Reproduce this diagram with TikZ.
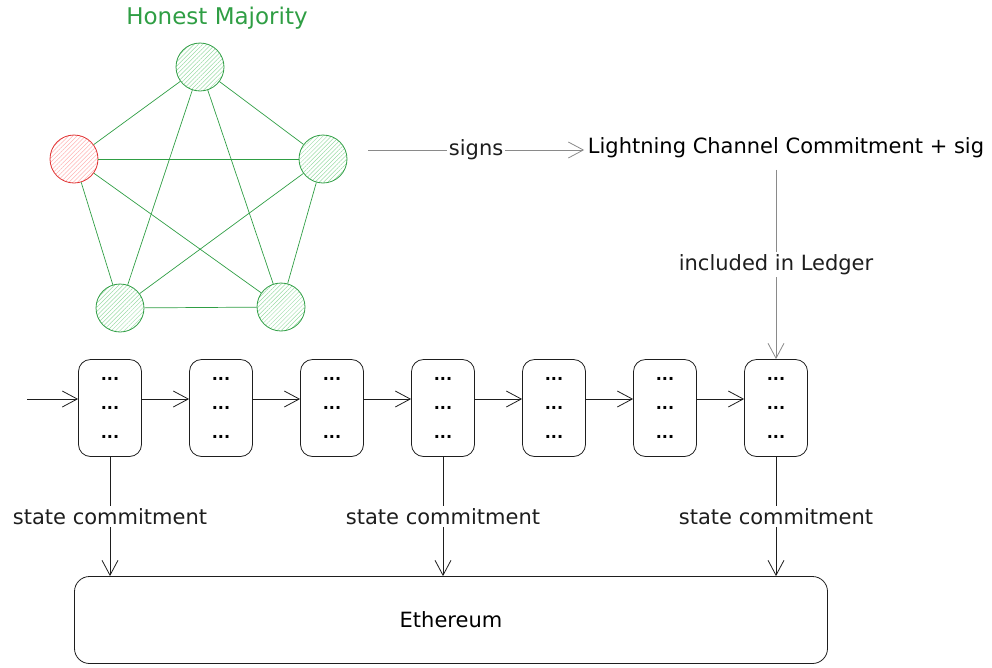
\documentclass[tikz,border=0pt]{standalone}
\usepackage{fontspec}
\setmainfont{DejaVu Sans}
\usetikzlibrary{arrows.meta,patterns.meta}

\definecolor{hgreen}{HTML}{2F9E44}
\definecolor{hgreenfill}{HTML}{9ADBA5}
\definecolor{hred}{HTML}{E03131}
\definecolor{hredfill}{HTML}{FFB3B3}
\definecolor{ink}{HTML}{1E1E1E}
\definecolor{grayline}{HTML}{8A8A8A}
\newcommand{\dotrow}{\textbf{...}}

\begin{document}
\begin{tikzpicture}[x=1pt,y=-1pt,>={Straight Barb[length=15pt,width=16pt]},
		line width=0.8pt,font=\fontsize{21}{25}\selectfont,node distance=111pt,
		honest node/.style={circle,draw=hgreen,minimum size=48pt,inner sep=0pt,
			pattern={Lines[angle=45,distance=3pt,line width=0.5pt]},pattern color=hgreenfill},
		bad node/.style={honest node,draw=hred,pattern color=hredfill},
		graph edge/.style={color=hgreen,line width=0.7pt},
		block node/.style={draw=ink,rounded corners=12pt,minimum width=63pt,minimum height=97pt,
			align=center,font=\fontsize{16}{29}\selectfont},
		chain node/.style={draw=ink,rounded corners=15pt,minimum width=753pt,minimum height=87pt},
		lbl/.style={fill=white,inner sep=2pt}]
		\useasboundingbox (0,0) rectangle (992,667);
		% Mehrheit
		\node[text=hgreen,font=\fontsize{23}{27}\selectfont] (title) at (217,18) {Honest Majority};
		\node[honest node] (h1) at (200,67) {};
		\node[bad node] (h2) at (74,159) {};
		\node[honest node] (h3) at (323,159) {};
		\node[honest node] (h4) at (120,308) {};
		\node[honest node] (h5) at (281,307) {};
		
		\path[graph edge]
		(h1) edge (h2) edge (h3) edge (h4) edge (h5)
		(h2) edge (h3) edge (h4) edge (h5)
		(h3) edge (h4) edge (h5)
		(h4) edge (h5);
		
		% Signatur
		\coordinate (sg) at (368,150);
		\node (lcc) at (786,148) {Lightning Channel Commitment + sig};
		
		% Ledger
		\node[block node] (b1) at (110,408) {\dotrow\\\dotrow\\\dotrow};
		\node[block node] (b2) [right of= b1] {\dotrow\\\dotrow\\\dotrow};
		\node[block node] (b3) [right of= b2] {\dotrow\\\dotrow\\\dotrow};
		\node[block node] (b4) [right of= b3] {\dotrow\\\dotrow\\\dotrow};
		\node[block node] (b5) [right of= b4] {\dotrow\\\dotrow\\\dotrow};
		\node[block node] (b6) [right of= b5] {\dotrow\\\dotrow\\\dotrow};
		\node[block node] (b7) [right of= b6] {\dotrow\\\dotrow\\\dotrow};
		\coordinate (in) at (27,399);
		
		% Ethereum
		\node[chain node] (eth) at (451,620) {Ethereum};
		
		\path[->,color=grayline]
		(sg) edge node[lbl,text=ink] {signs} (lcc.west |- sg)
		([yshift=-8pt]lcc.south -| b7) edge node[lbl,text=ink] {included in Ledger} (b7);
		
		\path[->,color=ink]
		(in) edge ([yshift=9pt]b1.west)
		([yshift=9pt]b1.east) edge ([yshift=9pt]b2.west)
		([yshift=9pt]b2.east) edge ([yshift=9pt]b3.west)
		([yshift=9pt]b3.east) edge ([yshift=9pt]b4.west)
		([yshift=9pt]b4.east) edge ([yshift=9pt]b5.west)
		([yshift=9pt]b5.east) edge ([yshift=9pt]b6.west)
		([yshift=9pt]b6.east) edge ([yshift=9pt]b7.west)
		(b1) edge node[lbl] {state commitment} (b1 |- eth.north)
		(b4) edge node[lbl] {state commitment} (b4 |- eth.north)
		(b7) edge node[lbl] {state commitment} (b7 |- eth.north);
		
\end{tikzpicture}
\end{document}
